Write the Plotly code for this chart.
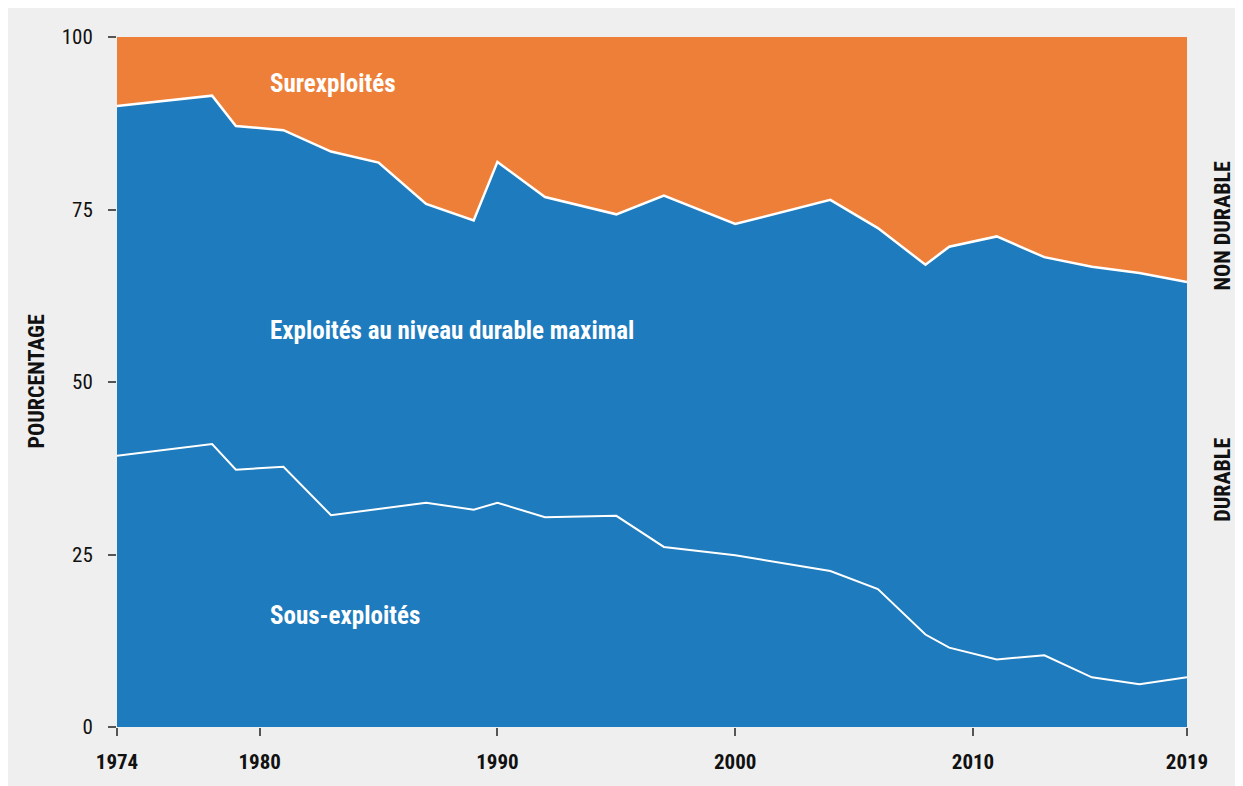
import plotly.graph_objects as go

years = [1974, 1978, 1979, 1981, 1983, 1985, 1987, 1989, 1990, 1992, 1995,
         1997, 2000, 2004, 2006, 2008, 2009, 2011, 2013, 2015, 2017, 2019]
sous_exploites = [39.3, 41.0, 37.3, 37.7, 30.7, 31.6, 32.5, 31.5, 32.5, 30.4, 30.6,
                  26.1, 24.9, 22.6, 20.0, 13.4, 11.5, 9.8, 10.4, 7.2, 6.2, 7.2]
exploites_max = [50.7, 50.5, 49.8, 48.8, 52.7, 50.2, 43.3, 41.9, 49.4, 46.4, 43.7,
                 50.9, 48.0, 53.8, 52.3, 53.6, 58.1, 61.3, 57.7, 59.5, 59.6, 57.3]
surexploites = [10.0, 8.5, 12.9, 13.5, 16.6, 18.2, 24.2, 26.6, 18.1, 23.2, 25.7,
                23.0, 27.1, 23.6, 27.7, 33.0, 30.4, 28.9, 31.9, 33.3, 34.2, 35.5]

x_ticks = [1974, 1980, 1990, 2000, 2010, 2019]
y_ticks = [0, 25, 50, 75, 100]

BLUE = "#1e7bbd"
ORANGE = "#ee7f38"
FONT = "Noto Sans Condensed, Roboto Condensed, Liberation Sans Narrow, Roboto, sans-serif"

fig = go.Figure()
fig.add_trace(go.Scatter(x=years, y=sous_exploites, stackgroup="one", mode="lines",
                         line=dict(color="white", width=2), fillcolor=BLUE,
                         hoverinfo="skip", name="Sous-exploités"))
fig.add_trace(go.Scatter(x=years, y=exploites_max, stackgroup="one", mode="lines",
                         line=dict(color="white", width=2.5), fillcolor=BLUE,
                         hoverinfo="skip", name="Exploités au niveau durable maximal"))
fig.add_trace(go.Scatter(x=years, y=surexploites, stackgroup="one", mode="lines",
                         line=dict(color=ORANGE, width=0), fillcolor=ORANGE,
                         hoverinfo="skip", name="Surexploités"))

lab_font = dict(family=FONT, size=25, color="white", weight="bold")
fig.add_annotation(x=1980.35, y=93.3, text="Surexploités", showarrow=False,
                   xanchor="left", yanchor="middle", font=lab_font)
fig.add_annotation(x=1980.35, y=57.5, text="Exploités au niveau durable maximal",
                   showarrow=False, xanchor="left", yanchor="middle", font=lab_font)
fig.add_annotation(x=1980.35, y=16.2, text="Sous-exploités", showarrow=False,
                   xanchor="left", yanchor="middle", font=lab_font)

side_font = dict(family=FONT, size=22, color="#111", weight="bold")
fig.add_annotation(xref="paper", yref="paper", x=1.047, y=0.823, text="NON DURABLE",
                   textangle=-90, showarrow=False, font=side_font)
fig.add_annotation(xref="paper", yref="paper", x=1.047, y=0.358, text="DURABLE",
                   textangle=-90, showarrow=False, font=side_font)
fig.add_annotation(xref="paper", yref="paper", x=-0.0897, y=0.5, text="POURCENTAGE",
                   textangle=-90, showarrow=False, font=side_font)

fig.update_layout(
    width=1243, height=786,
    margin=dict(l=109, r=64, t=29, b=67),
    paper_bgcolor="#efefef", plot_bgcolor="#efefef",
    showlegend=False,
    font=dict(family=FONT, color="#111"),
)
fig.update_xaxes(range=[1974, 2019], tickvals=x_ticks, ticks="outside", ticklen=8,
                 tickcolor="#555", tickwidth=2, showgrid=False, zeroline=False,
                 showline=False, ticklabelstandoff=8,
                 tickfont=dict(family=FONT, size=21, color="#111", weight="bold"))
fig.update_yaxes(range=[0, 100], tickvals=y_ticks, ticks="outside", ticklen=8,
                 tickcolor="#555", tickwidth=1.5, showgrid=False, zeroline=False,
                 showline=False, ticklabelstandoff=11,
                 tickfont=dict(family=FONT, size=21, color="#111"))

fig.write_html("out.html")
